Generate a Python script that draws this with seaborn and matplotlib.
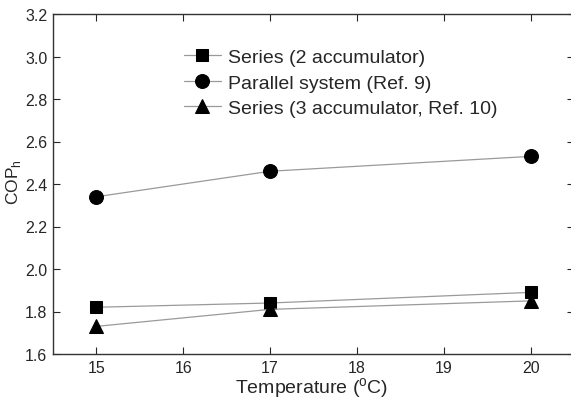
import numpy as np
import pandas as pd
import matplotlib
matplotlib.use("Agg")
import matplotlib.pyplot as plt
import seaborn as sns

temps = [15, 17, 20]
series2 = [1.82, 1.84, 1.89]
parallel = [2.34, 2.46, 2.53]
series3 = [1.73, 1.81, 1.85]
labels = ["Series (2 accumulator)", "Parallel system (Ref. 9)", "Series (3 accumulator, Ref. 10)"]
markers = ["s", "o", "^"]
msizes = [8, 10, 10.5]

sns.set_style("ticks")
plt.rcParams['font.family'] = ['Liberation Sans', 'DejaVu Sans']
plt.rcParams['mathtext.fontset'] = 'custom'
plt.rcParams['mathtext.rm'] = 'Liberation Sans'

fig = plt.figure(figsize=(5.71, 4.02), dpi=100)
ax = fig.add_axes([53 / 571, 47 / 402, 521 / 571, 340 / 402])

for vals, lab, mk, ms in zip([series2, parallel, series3], labels, markers, msizes):
    df = pd.DataFrame({"T": temps, "COP": vals})
    sns.lineplot(data=df, x="T", y="COP", ax=ax, color="#9a9a9a", lw=0.9,
                 marker=mk, markersize=ms,
                 markerfacecolor="black", markeredgecolor="black", label=lab)

ax.set_xlim(14.5, 20.5)
ax.set_ylim(1.6, 3.2)
ax.set_xticks([15, 16, 17, 18, 19, 20])
ax.set_yticks(np.arange(1.6, 3.21, 0.2))
ax.set_yticklabels([f"{v:.1f}" for v in np.arange(1.6, 3.21, 0.2)])
ax.tick_params(direction="in", top=True, right=True, labelsize=11.5, length=5, width=0.8, pad=4)
for s in ax.spines.values():
    s.set_linewidth(1.0)
    s.set_color("#333333")

ax.set_xlabel(r"Temperature ($^\mathrm{o}$C)", fontsize=14)
ax.set_ylabel(r"COP$_\mathrm{h}$", fontsize=12.5)
ax.xaxis.set_label_coords(0.497, -0.062)
ax.yaxis.set_label_coords(-0.058, 0.51)

ax.legend(loc="upper left", bbox_to_anchor=(0.217, 0.95), frameon=False,
          fontsize=14, handlelength=1.9, handletextpad=0.4, labelspacing=0.4)

fig.savefig("out.png", dpi=100)
